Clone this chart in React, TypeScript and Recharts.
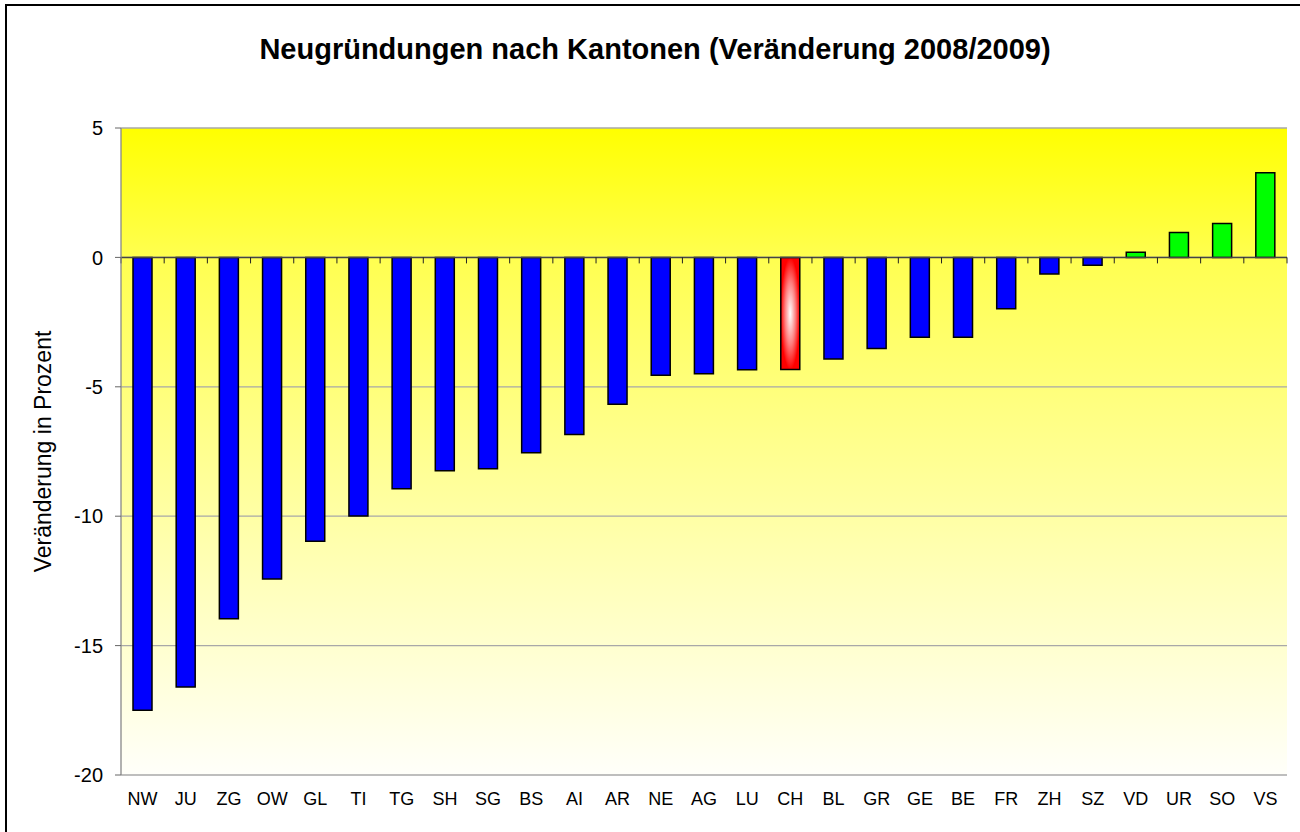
import React from 'react';
import { BarChart, Bar, XAxis, YAxis, CartesianGrid, Cell, ReferenceLine } from 'recharts';

const cantons = ['NW','JU','ZG','OW','GL','TI','TG','SH','SG','BS','AI','AR','NE','AG','LU','CH','BL','GR','GE','BE','FR','ZH','SZ','VD','UR','SO','VS'];
const changes = [-17.5,-16.6,-13.96,-12.43,-10.97,-9.99,-8.94,-8.24,-8.17,-7.55,-6.84,-5.67,-4.55,-4.5,-4.34,-4.33,-3.93,-3.52,-3.09,-3.09,-1.98,-0.64,-0.3,0.2,0.96,1.31,3.27];
const yTicks = [-20, -15, -10, -5, 0, 5];
const totalLabel = 'CH';
const title = 'Neugründungen nach Kantonen (Veränderung 2008/2009)';
const yLabel = 'Veränderung in Prozent';

const data = cantons.map((c, i) => ({ name: c, value: changes[i] }));

const FONT = '"Liberation Sans", Arial, sans-serif';

const ZeroAxis = (props: any) => {
  const { x1, x2, y1 } = props;
  if (x1 == null || x2 == null || y1 == null) return null;
  const n = cantons.length;
  const ticks = [];
  for (let k = 0; k <= n; k++) {
    const x = x1 + ((x2 - x1) * k) / n;
    ticks.push(<line key={k} x1={x} x2={x} y1={y1} y2={y1 + 6} stroke="#222" strokeWidth={1} />);
  }
  return (
    <g>
      <line x1={x1} x2={x2} y1={y1} y2={y1} stroke="#444" strokeWidth={1.5} />
      {ticks}
    </g>
  );
};

export default function App() {
  return (
    <div style={{ position: 'fixed', left: 0, top: 0, width: 1300, height: 832, overflow: 'hidden', background: '#fff', fontFamily: FONT }}>
      <div style={{ position: 'absolute', left: 5, top: 4, width: 1320, height: 860, border: '2px solid #000', boxSizing: 'border-box' }} />
      <div style={{ position: 'absolute', left: 6, top: 33, width: 1298, textAlign: 'center', fontWeight: 'bold', fontSize: 29, lineHeight: '33px', color: '#000' }}>
        {title}
      </div>
      <div style={{ position: 'absolute', left: 0, top: 0 }}>
        <BarChart width={1300} height={832} data={data} margin={{ top: 128, right: 13, left: 0, bottom: 27 }} barSize={19}>
          <defs>
            <linearGradient id="bgGrad" x1="0" y1="0" x2="0" y2="1">
              <stop offset="0%" stopColor="#FFFF00" />
              <stop offset="20%" stopColor="#FFFF50" />
              <stop offset="100%" stopColor="#FFFFFA" />
            </linearGradient>
            <radialGradient id="chGrad" cx="0.5" cy="0.5" r="0.5">
              <stop offset="0%" stopColor="#FFFFFF" />
              <stop offset="55%" stopColor="#FF8080" />
              <stop offset="100%" stopColor="#FF0000" />
            </radialGradient>
          </defs>
          <CartesianGrid vertical={false} stroke="#A8A8A8" strokeWidth={1.3} fill="url(#bgGrad)" fillOpacity={1} />
          <XAxis
            dataKey="name"
            axisLine={false}
            tickLine={false}
            tickSize={0}
            tickMargin={17}
            height={30}
            interval={0}
            tick={{ fontSize: 18, fill: '#000', fontFamily: FONT }}
          />
          <YAxis
            domain={[-20, 5]}
            ticks={yTicks}
            width={121}
            axisLine={{ stroke: '#888', strokeWidth: 1.3 }}
            tickLine={{ stroke: '#666' }}
            tickSize={6}
            tickMargin={12}
            tick={{ fontSize: 20, fill: '#000', fontFamily: FONT }}
            label={{ value: yLabel, angle: -90, position: 'insideLeft', offset: 43, style: { textAnchor: 'middle', fontSize: 23, fill: '#000', fontFamily: FONT } }}
          />
          <Bar dataKey="value" stroke="#000" strokeWidth={1.5} isAnimationActive={false}>
            {data.map((d) => (
              <Cell key={d.name} fill={d.name === totalLabel ? 'url(#chGrad)' : d.value > 0 ? '#00FF00' : '#0000FF'} />
            ))}
          </Bar>
          <ReferenceLine y={0} shape={ZeroAxis} />
        </BarChart>
      </div>
    </div>
  );
}
